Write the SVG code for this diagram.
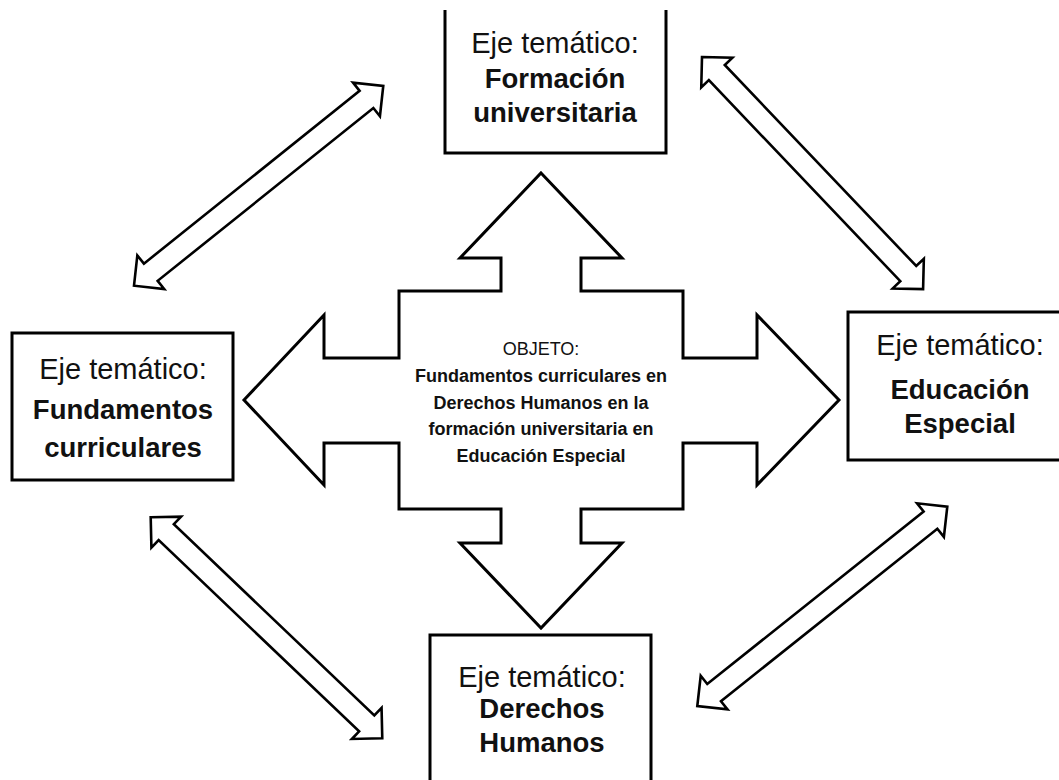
<svg xmlns="http://www.w3.org/2000/svg" width="1059" height="780" viewBox="0 0 1059 780">
<defs>
<style>
.box{fill:#fff;stroke:#000;stroke-width:3}
.arr{fill:#fff;stroke:#000;stroke-width:2.6;stroke-linejoin:miter}
.t{font-family:"Liberation Sans",Arial,sans-serif;fill:#111;text-anchor:middle}
.r{font-size:29px}
.b{font-size:27.5px;font-weight:bold}
.cr{font-size:18px}
.cb{font-size:18px;font-weight:bold}
</style>
</defs>
<rect width="1059" height="780" fill="#fff"/>
<g id="connectors">
<path class="arr" transform="translate(134,285.7) rotate(-38.7)" d="M0,0 L21.5,-21.5 L21.5,-11 L297.9,-11 L297.9,-21.5 L319.4,0 L297.9,21.5 L297.9,11 L21.5,11 L21.5,21.5 Z"/>
<path class="arr" transform="translate(702,57) rotate(46.4)" d="M0,0 L21.5,-21.5 L21.5,-11 L299.1,-11 L299.1,-21.5 L320.6,0 L299.1,21.5 L299.1,11 L21.5,11 L21.5,21.5 Z"/>
<path class="arr" transform="translate(150.7,517.3) rotate(43.66)" d="M0,0 L21.5,-21.5 L21.5,-11 L298.6,-11 L298.6,-21.5 L320.1,0 L298.6,21.5 L298.6,11 L21.5,11 L21.5,21.5 Z"/>
<path class="arr" transform="translate(697.3,706) rotate(-38.56)" d="M0,0 L21.5,-21.5 L21.5,-11 L298.2,-11 L298.2,-21.5 L319.7,0 L298.2,21.5 L298.2,11 L21.5,11 L21.5,21.5 Z"/>
</g>
<g id="objeto">
<path class="box" d="M541,173 L622,258 L581,258 L581,291 L683,291 L683,358 L757,358 L757,315 L839,400 L757,485 L757,443 L683,443 L683,509 L581,509 L581,543 L622,543 L541,628 L460,543 L501,543 L501,509 L399,509 L399,443 L324,443 L324,485 L244,400 L324,315 L324,358 L399,358 L399,291 L501,291 L501,258 L460,258 Z"/>
<text class="t cr" x="541" y="355">OBJETO:</text>
<text class="t cb" x="541" y="382">Fundamentos curriculares en</text>
<text class="t cb" x="541" y="409">Derechos Humanos en la</text>
<text class="t cb" x="541" y="435">formación universitaria en</text>
<text class="t cb" x="541" y="462">Educación Especial</text>
</g>
<g id="formacion">
<path class="box" d="M445,10 L445,153 L666,153 L666,10"/>
<text class="t r" x="555" y="53">Eje temático:</text>
<text class="t b" x="555" y="88">Formación</text>
<text class="t b" x="555" y="122">universitaria</text>
</g>
<g id="fundamentos">
<rect class="box" x="12" y="333" width="221" height="147"/>
<text class="t r" x="123" y="379">Eje temático:</text>
<text class="t b" x="123" y="419">Fundamentos</text>
<text class="t b" x="123" y="457">curriculares</text>
</g>
<g id="educacion">
<path class="box" d="M1062,312 L848,312 L848,460 L1062,460"/>
<text class="t r" x="960" y="355">Eje temático:</text>
<text class="t b" x="960" y="399">Educación</text>
<text class="t b" x="960" y="433">Especial</text>
</g>
<g id="derechos">
<path class="box" d="M430,783 L430,635 L651,635 L651,783"/>
<text class="t r" x="542" y="687">Eje temático:</text>
<text class="t b" x="542" y="718">Derechos</text>
<text class="t b" x="542" y="752">Humanos</text>
</g>
</svg>
